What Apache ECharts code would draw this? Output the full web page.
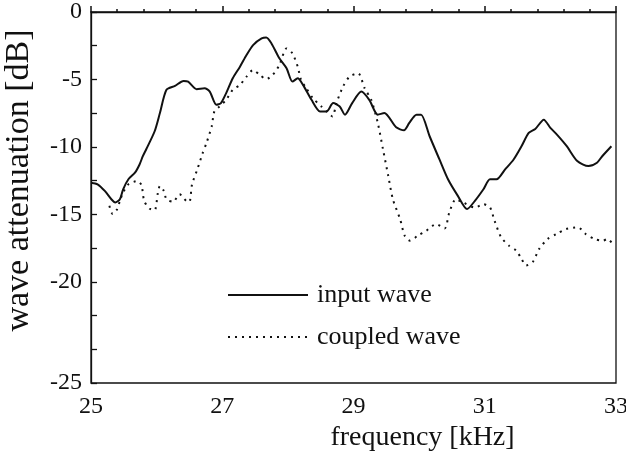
<!DOCTYPE html>
<html>
<head>
<meta charset="utf-8">
<script src="https://cdn.jsdelivr.net/npm/echarts@6/dist/echarts.min.js"></script>
<style>
  html, body { margin: 0; padding: 0; background: #fff; }
  #main { width: 626px; height: 456px; }
</style>
</head>
<body>
<div id="main"></div>
<script>
// input wave (solid)
var inputFreq = [25.0, 25.1, 25.21, 25.31, 25.37, 25.44, 25.49, 25.57, 25.67, 25.74, 25.79, 25.84,
  25.97, 26.05, 26.15, 26.28, 26.41, 26.48, 26.61, 26.73, 26.81, 26.91, 26.98, 27.06, 27.16, 27.27,
  27.37, 27.47, 27.6, 27.67, 27.75, 27.87, 27.98, 28.07, 28.15, 28.23, 28.36, 28.49, 28.59, 28.69,
  28.79, 28.87, 28.98, 29.12, 29.24, 29.37, 29.47, 29.65, 29.77, 29.85, 29.96, 30.03, 30.16, 30.31,
  30.44, 30.59, 30.73, 30.85, 30.98, 31.08, 31.18, 31.31, 31.44, 31.56, 31.67, 31.77, 31.9, 32.0,
  32.1, 32.25, 32.41, 32.58, 32.71, 32.79, 32.93];
var inputDb = [-12.65, -12.77, -13.26, -13.88, -14.12, -13.88, -13.14, -12.4, -11.91, -11.3, -10.69, -10.19,
  -8.84, -7.49, -5.77, -5.48, -5.11, -5.16, -5.72, -5.65, -5.9, -6.88, -6.75, -6.01, -4.91, -4.05,
  -3.19, -2.45, -1.96, -1.89, -2.33, -3.43, -4.17, -5.16, -4.91, -5.4, -6.51, -7.37, -7.37, -6.75,
  -7.0, -7.61, -6.75, -5.9, -6.51, -7.61, -7.49, -8.55, -8.77, -8.22, -7.61, -7.61, -9.21, -10.93,
  -12.4, -13.63, -14.61, -14.0, -13.14, -12.4, -12.4, -11.67, -10.93, -9.95, -8.96, -8.67, -7.98, -8.59,
  -9.09, -9.95, -11.05, -11.42, -11.17, -10.69, -9.95];

// coupled wave (dotted)
var coupledFreq = [25.28, 25.33, 25.4, 25.44, 25.49, 25.57, 25.71, 25.77, 25.81, 25.89, 25.97, 26.02,
  26.05, 26.11, 26.15, 26.25, 26.35, 26.45, 26.5, 26.54, 26.62, 26.7, 26.76, 26.84, 26.88, 26.96,
  27.06, 27.16, 27.27, 27.37, 27.47, 27.57, 27.67, 27.77, 27.87, 27.98, 28.07, 28.15, 28.2, 28.28,
  28.38, 28.51, 28.59, 28.68, 28.74, 28.84, 28.94, 29.07, 29.17, 29.27, 29.37, 29.45, 29.53, 29.6,
  29.71, 29.78, 29.86, 29.98, 30.11, 30.26, 30.39, 30.46, 30.56, 30.67, 30.85, 30.98, 31.08, 31.15,
  31.25, 31.37, 31.48, 31.56, 31.63, 31.73, 31.83, 31.96, 32.09, 32.24, 32.42, 32.54, 32.67, 32.8,
  32.87, 32.95];
var coupledDb = [-14.37, -14.98, -14.6, -14.0, -13.38, -12.77, -12.53, -12.84, -14.0, -14.56, -14.69, -13.38,
  -12.9, -13.26, -13.88, -14.07, -13.51, -14.0, -14.07, -12.77, -11.67, -10.49, -9.7, -8.47, -7.37, -7.0,
  -6.51, -5.77, -5.4, -4.79, -4.3, -4.66, -4.98, -4.66, -3.93, -2.7, -3.07, -4.05, -5.03, -5.65,
  -6.38, -7.0, -7.37, -7.74, -6.75, -5.53, -4.79, -4.54, -5.65, -6.51, -8.22, -10.19, -12.16, -13.88,
  -15.35, -16.58, -16.95, -16.58, -16.21, -15.72, -16.04, -14.86, -13.88, -14.12, -14.49, -14.25, -14.49, -15.48,
  -16.7, -17.32, -17.69, -18.3, -18.79, -18.54, -17.56, -16.82, -16.46, -16.09, -15.96, -16.46, -16.82, -16.95,
  -16.82, -17.19];

var yLabelValues = [0, -5, -10, -15, -20];
var seriesNames = ['input wave', 'coupled wave'];

function pairs(xs, ys) {
  return xs.map(function (x, i) { return [x, ys[i]]; });
}

var serif = '"Liberation Serif", "DejaVu Serif", serif';
var ink = '#111';
var chart = echarts.init(document.getElementById('main'));

chart.setOption({
  backgroundColor: '#fff',
  animation: false,
  grid: {
    left: 91, right: 10, top: 12, bottom: 73,
    outerBoundsMode: 'none',
    containLabel: false,
    show: true, borderColor: ink, borderWidth: 1.3, backgroundColor: 'transparent'
  },
  legend: {
    orient: 'vertical',
    left: 222, top: 277,
    itemWidth: 80, itemHeight: 24, itemGap: 16,
    itemStyle: { opacity: 0 },
    textStyle: { fontFamily: serif, fontSize: 26, color: ink, padding: [0, 0, 0, 4] },
    data: seriesNames
  },
  xAxis: {
    type: 'value',
    min: 25, max: 33, interval: 2,
    name: 'frequency [kHz]',
    nameLocation: 'middle',
    nameGap: 38,
    nameTextStyle: { fontFamily: serif, fontSize: 28, color: ink, padding: [0, 0, 0, 138] },
    axisLine: { lineStyle: { color: ink, width: 1.3 } },
    axisTick: { inside: true, length: 6, lineStyle: { color: ink, width: 1.5 } },
    minorTick: { show: true, splitNumber: 5, length: 3, lineStyle: { color: ink, width: 1.5 } },
    axisLabel: { fontFamily: serif, fontSize: 24, color: ink, margin: 12 },
    splitLine: { show: false }
  },
  yAxis: {
    type: 'value',
    min: -27.5, max: 0, interval: 2.5,
    name: 'wave attenuation [dB]',
    nameLocation: 'middle',
    nameGap: 55,
    nameTextStyle: { fontFamily: serif, fontSize: 34, color: ink, padding: [0, 0, 0, 34] },
    axisLine: { lineStyle: { color: ink, width: 1.3 } },
    axisTick: { inside: true, length: 6, lineStyle: { color: ink, width: 1.3 } },
    axisLabel: {
      fontFamily: serif, fontSize: 24, color: ink, margin: 9,
      formatter: function (v) {
        if (v === -27.5) return '-25';
        return yLabelValues.indexOf(v) >= 0 ? String(v) : '';
      }
    },
    splitLine: { show: false }
  },
  series: [{
    name: seriesNames[0],
    type: 'line',
    data: pairs(inputFreq, inputDb),
    symbol: 'none',
    smooth: 0.25,
    color: ink,
    lineStyle: { color: ink, width: 2 }
  }, {
    name: seriesNames[1],
    type: 'line',
    data: pairs(coupledFreq, coupledDb),
    symbol: 'none',
    smooth: 0.25,
    color: ink,
    lineStyle: { color: ink, width: 2, type: [2, 5] }
  }]
});
</script>
</body>
</html>
